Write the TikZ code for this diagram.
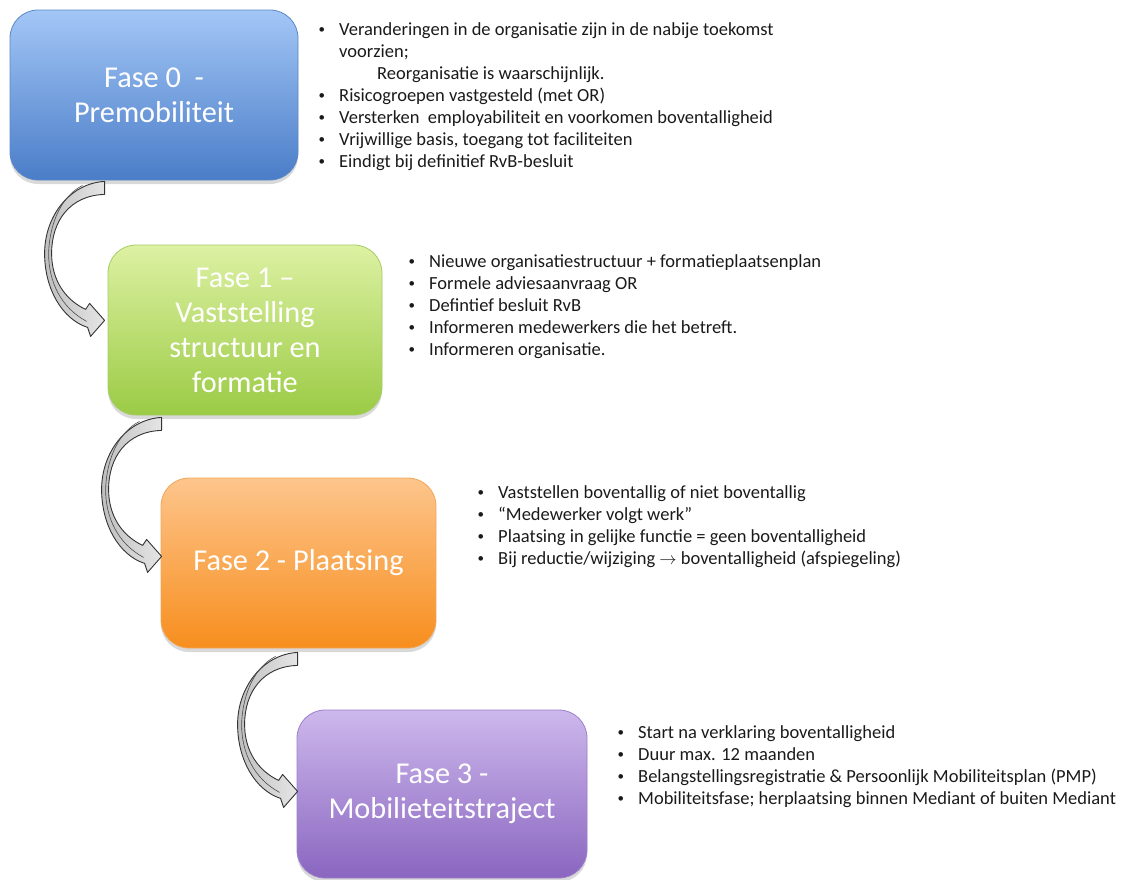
\documentclass[tikz,border=0pt]{standalone}
\usepackage{fontspec}
\setmainfont{Carlito}
\usetikzlibrary{shadows,calc}

% fills for the four phase boxes
\definecolor{bluetop}{HTML}{A3C6F6}
\definecolor{bluebottom}{HTML}{4A7DC8}
\definecolor{blueborder}{HTML}{5B88C6}
\definecolor{greentop}{HTML}{DDF1A3}
\definecolor{greenbottom}{HTML}{9BCB45}
\definecolor{greenborder}{HTML}{A6CC66}
\definecolor{orangetop}{HTML}{FDC58C}
\definecolor{orangebottom}{HTML}{F78E1E}
\definecolor{orangeborder}{HTML}{F2A65A}
\definecolor{purpletop}{HTML}{CDB8EC}
\definecolor{purplebottom}{HTML}{8A66C0}
\definecolor{purpleborder}{HTML}{9C80CB}
\definecolor{listtext}{HTML}{1A1A1A}

% small list bullet in its own 20pt column
\newcommand{\itemdot}{\makebox[21pt][l]{\hspace{0.5pt}\raisebox{1.2pt}{\fontsize{13}{13}\selectfont •}}}

\tikzset{
  phase/.style={rounded corners=28pt, draw=#1border, line width=0.8pt,
    top color=#1top, bottom color=#1bottom, text=white, align=center,
    font=\fontsize{30.3}{35}\selectfont, inner sep=0pt,
    drop shadow={opacity=0.3, shadow xshift=0pt, shadow yshift=-4pt}},
  notes/.style={anchor=base west, inner sep=0pt, text=listtext,
    font=\fontsize{18.5}{22}\selectfont},
  ribbon/.style={draw=black!80, line width=0.9pt, left color=gray!50,
    right color=gray!20, line join=round},
  fold/.style={draw=black!70, line width=0.6pt},
  bend arrow/.pic={
    \path[ribbon] (0,0) .. controls (-35,2) and (-60,35) .. (-60,72)
      .. controls (-60,108) and (-42,138) .. (-17,146)
      -- (-14,155) -- (0,139) -- (-15,122) -- (-19,128)
      .. controls (-40,118) and (-53,98) .. (-53,72)
      .. controls (-53,40) and (-35,14) .. (0,13) -- cycle;
    \draw[fold] (-22,4) .. controls (-42,14) and (-55,40) .. (-56,72)
      .. controls (-56,100) and (-44,126) .. (-18,140);
  }
}

\begin{document}
\begin{tikzpicture}[x=1pt, y=-1pt]
\useasboundingbox (0,0) rectangle (1123,879);

% phase boxes
\node[phase=blue, minimum width=288pt, minimum height=170pt] (b0) at (154,95)
  {Fase 0\ \ -\\Premobiliteit};
\node[phase=green, minimum width=274pt, minimum height=170pt] (b1) at (245,330)
  {Fase 1 –\\Vaststelling\\structuur en\\formatie};
\node[phase=orange, minimum width=275pt, minimum height=170pt] (b2) at (298.5,563)
  {Fase 2 - Plaatsing};
\node[phase=purple, minimum width=290pt, minimum height=168pt] (b3) at (442,794)
  {Fase 3 -\\Mobilieteitstraject};

% curved arrows between the phases
\pic at ($(b1.west |- b0.south)+(-3,1)$) {bend arrow};
\pic at ($(b2.west |- b1.south)+(1,2)$) {bend arrow};
\pic at ($(b3.west |- b2.south)+(1,4)$) {bend arrow};

% bullet lists
\node[notes] (n0) at (318,35) {\begin{tabular}[t]{@{}l@{}l@{}}
\itemdot & Veranderingen in de organisatie zijn in de nabije toekomst\\
 & voorzien;\\
 & \hspace{38pt}Reorganisatie is waarschijnlijk.\\
\itemdot & Risicogroepen vastgesteld (met OR)\\
\itemdot & Versterken\ \ employabiliteit en voorkomen boventalligheid\\
\itemdot & Vrijwillige basis, toegang tot faciliteiten\\
\itemdot & Eindigt bij definitief RvB-besluit
\end{tabular}};

\node[notes] (n1) at (408,267) {\begin{tabular}[t]{@{}l@{}l@{}}
\itemdot & Nieuwe organisatiestructuur + formatieplaatsenplan\\
\itemdot & Formele adviesaanvraag OR\\
\itemdot & Defintief besluit RvB\\
\itemdot & Informeren medewerkers die het betreft.\\
\itemdot & Informeren organisatie.
\end{tabular}};

\node[notes] (n2) at (477,498) {\begin{tabular}[t]{@{}l@{}l@{}}
\itemdot & Vaststellen boventallig of niet boventallig\\
\itemdot & “Medewerker volgt werk”\\
\itemdot & Plaatsing in gelijke functie = geen boventalligheid\\
\itemdot & Bij reductie/wijziging $\rightarrow$ boventalligheid (afspiegeling)
\end{tabular}};

\node[notes] (n3) at (617,738) {\begin{tabular}[t]{@{}l@{}l@{}}
\itemdot & Start na verklaring boventalligheid\\
\itemdot & Duur max. 12 maanden\\
\itemdot & Belangstellingsregistratie \& Persoonlijk Mobiliteitsplan (PMP)\\
\itemdot & Mobiliteitsfase; herplaatsing binnen Mediant of buiten Mediant
\end{tabular}};
\end{tikzpicture}
\end{document}
